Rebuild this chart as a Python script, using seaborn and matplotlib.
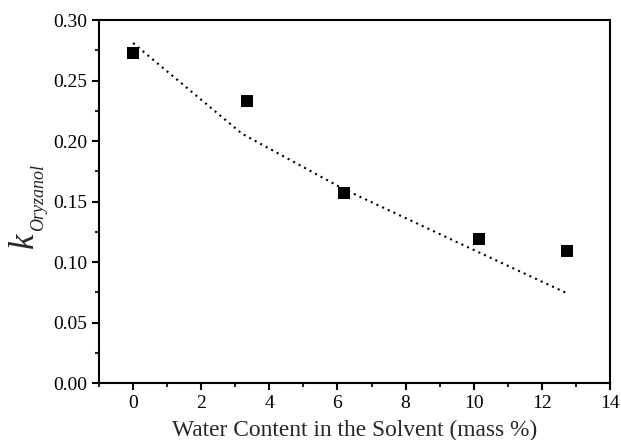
import numpy as np
import pandas as pd
import seaborn as sns
import matplotlib
matplotlib.use("Agg")
import matplotlib.pyplot as plt
from matplotlib.ticker import MultipleLocator

# Data
water_exp = [0.0, 3.35, 6.2, 10.15, 12.75]
k_exp = [0.273, 0.233, 0.157, 0.119, 0.109]
water_model = [0.0, 3.2, 6.2, 10.15, 12.75]
k_model = [0.281, 0.206, 0.160, 0.108, 0.074]

sns.set_style("ticks")
plt.rcParams['font.family'] = ['Liberation Serif', 'DejaVu Serif']

W, H = 621, 440
fig = plt.figure(figsize=(W / 100, H / 100), dpi=100)
ax = fig.add_axes([0.1594, 0.1295, 0.8229, 0.825])

df_exp = pd.DataFrame({"x": water_exp, "y": k_exp})
df_mod = pd.DataFrame({"x": water_model, "y": k_model})

sns.lineplot(data=df_mod, x="x", y="y", ax=ax, color="black",
             linestyle=(0, (1, 2.0)), linewidth=1.5, sort=False)
sns.scatterplot(data=df_exp, x="x", y="y", ax=ax, marker="s", s=75,
                color="black", edgecolor="black", linewidth=0, zorder=3)

ax.set_xlim(-1, 14)
ax.set_ylim(0, 0.30)
ax.xaxis.set_major_locator(MultipleLocator(2))
ax.xaxis.set_minor_locator(MultipleLocator(1))
ax.yaxis.set_major_locator(MultipleLocator(0.05))
ax.yaxis.set_minor_locator(MultipleLocator(0.025))
ax.yaxis.set_major_formatter(matplotlib.ticker.FormatStrFormatter('%.2f'))

for sp in ax.spines.values():
    sp.set_linewidth(1.5)
    sp.set_color("black")

ax.tick_params(axis='both', which='major', direction='out', length=5, width=1.5,
               labelsize=14, colors='black', top=False, right=False)
ax.tick_params(axis='both', which='minor', direction='out', length=3, width=1.5,
               top=False, right=False)

ax.set_xlabel("Water Content in the Solvent (mass %)", fontsize=16.8, labelpad=5.5)
ax.set_ylabel("")

# y label: italic k with smaller italic subscript
fig.text(25 / W, 1 - 240 / H, "k", rotation=90, fontsize=25, fontstyle='italic',
         ha='center', va='center')
fig.text(38.5 / W, 1 - 197 / H, "Oryzanol", rotation=90, fontsize=13,
         fontstyle='italic', ha='center', va='center')

fig.savefig("out.png", dpi=100)
